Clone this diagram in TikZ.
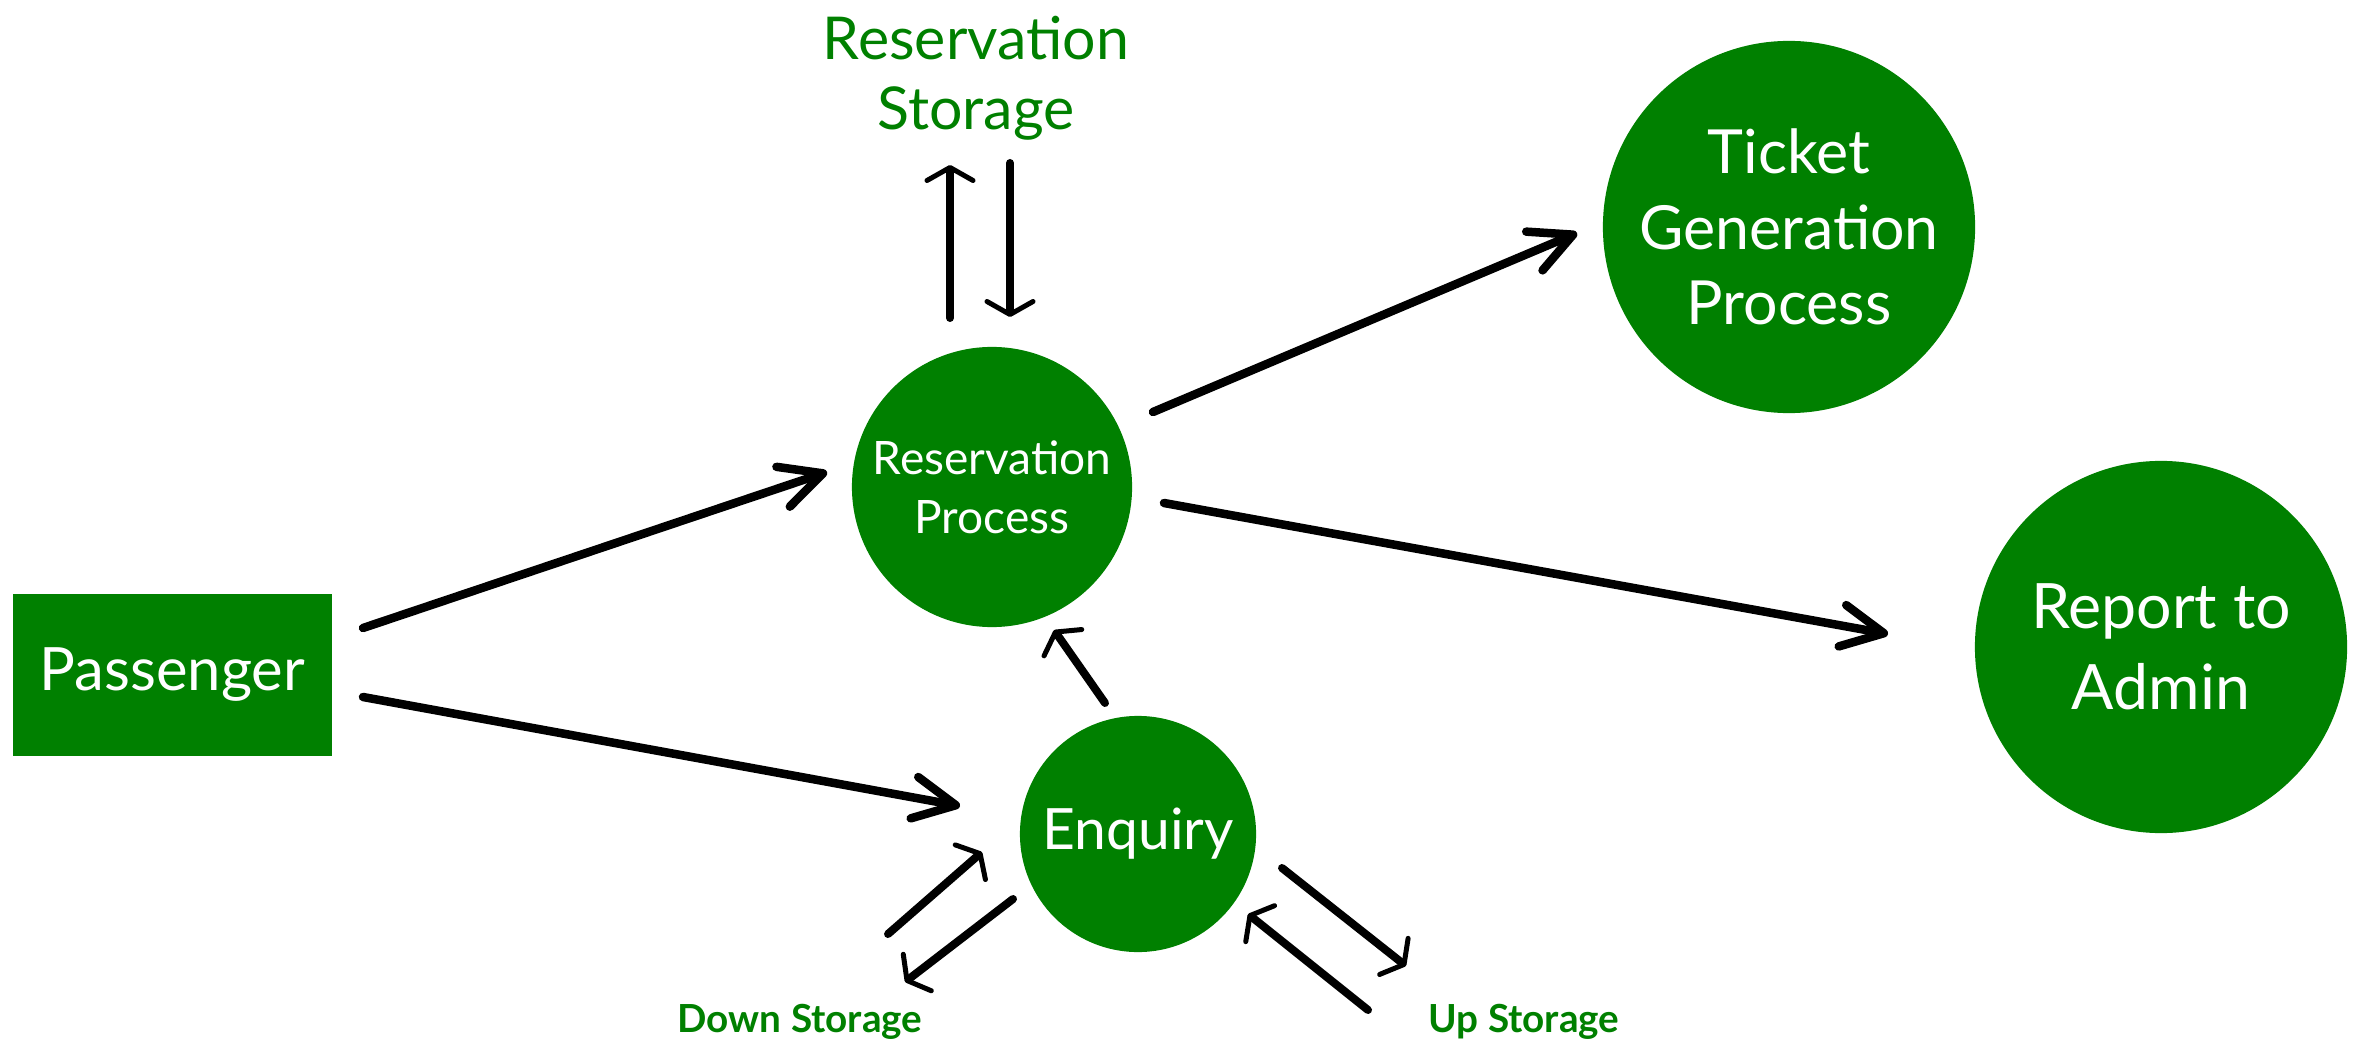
\documentclass[tikz,border=0pt]{standalone}
\usepackage{fontspec}
\setmainfont{Lato}
\usetikzlibrary{arrows.meta}
\definecolor{gfg}{RGB}{0,128,0}
\tikzset{
  proc/.style={circle, fill=gfg, text=white, inner sep=0pt, align=center},
  boxnode/.style={rectangle, fill=gfg, text=white, inner sep=0pt},
  lbl/.style={text=gfg, inner sep=0pt, align=center},
  arr/.style={line width=0.085cm, line cap=round, line join=round,
    -{Straight Barb[length=0.42cm, width=0.42cm, line width=0.085cm, round]}},
  tarr/.style={line width=0.08cm, line cap=round,
    -{Straight Barb[length=0.13cm, width=0.46cm, line width=0.05cm, round]}},
}
\begin{document}
\begin{tikzpicture}[x=0.01cm, y=-0.01cm]
\useasboundingbox (0,0) rectangle (2361,1043);

% nodes
\node[boxnode, minimum width=3.19cm, minimum height=1.62cm,
      font=\fontsize{17}{20}\selectfont] (pass) at (172.5,675) {Passenger};
\node[proc, minimum size=2.8cm, font=\fontsize{13.1}{16.8}\selectfont]
      (res) at (992,487) {Reservation\\Process};
\node[proc, minimum size=2.36cm, font=\fontsize{16.2}{19}\selectfont]
      (enq) at (1138,834) {Enquiry};
\node[proc, minimum size=3.72cm, font=\fontsize{17.3}{21.5}\selectfont]
      (tick) at (1789,227) {Ticket\\Generation\\Process};
\node[proc, minimum size=3.72cm, font=\fontsize{17.8}{23}\selectfont]
      (rep) at (2161,647) {Report to\\Admin};
\node[lbl, font=\fontsize{16.8}{20}\selectfont] (rstor) at (976,78) {Reservation\\Storage};
\node[lbl, font=\bfseries\fontsize{11}{13}\selectfont] (dstor) at (800,1022) {Down Storage};
\node[lbl, font=\bfseries\fontsize{11}{13}\selectfont] (ustor) at (1524,1022) {Up Storage};

% connector end points
\coordinate (p1s) at (363,628);   \coordinate (p1e) at (827,472);
\coordinate (p2s) at (363,697);   \coordinate (p2e) at (960,806);
\coordinate (r1s) at (1153,412);  \coordinate (r1e) at (1577,233);
\coordinate (r2s) at (1164,503);  \coordinate (r2e) at (1888,634);
\coordinate (e1s) at (1105,703);  \coordinate (e1e) at (1054,630);
\coordinate (su1) at (950,318);   \coordinate (su2) at (950,165);
\coordinate (sd1) at (1010,163);  \coordinate (sd2) at (1010,317);
\coordinate (du1) at (888,934);   \coordinate (du2) at (982,852);
\coordinate (dd1) at (1013,899);  \coordinate (dd2) at (905,982);
\coordinate (ud1) at (1282,868);  \coordinate (ud2) at (1406,966);
\coordinate (uu1) at (1368,1010); \coordinate (uu2) at (1248,914);

% connectors
\draw[arr] (p1s) -- (p1e);
\draw[arr] (p2s) -- (p2e);
\draw[arr] (r1s) -- (r1e);
\draw[arr] (r2s) -- (r2e);
\draw[tarr] (e1s) -- (e1e);
\draw[tarr] (su1) -- (su2);
\draw[tarr] (sd1) -- (sd2);
\draw[tarr] (du1) -- (du2);
\draw[tarr] (dd1) -- (dd2);
\draw[tarr] (ud1) -- (ud2);
\draw[tarr] (uu1) -- (uu2);
\end{tikzpicture}
\end{document}
